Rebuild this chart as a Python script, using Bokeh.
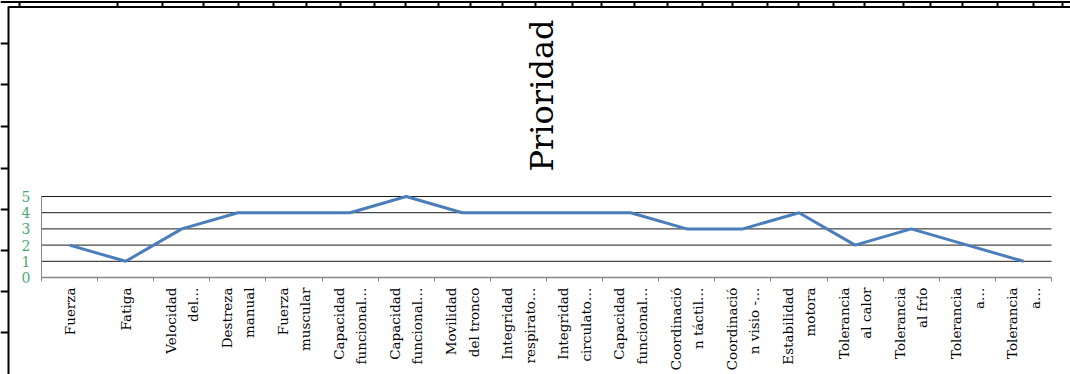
import math
from bokeh.plotting import figure
from bokeh.models import Range1d, FixedTicker, Label, LinearAxis
from bokeh.embed import file_html
from bokeh.resources import INLINE

# ---- data ----
categories = [
    "Fuerza", "Fatiga", "Velocidad\ndel…", "Destreza\nmanual", "Fuerza\nmuscular",
    "Capacidad\nfuncional…", "Capacidad\nfuncional…", "Movilidad\ndel tronco",
    "Integridad\nrespirato…", "Integridad\ncirculato…", "Capacidad\nfuncional…",
    "Coordinació\nn táctil…", "Coordinació\nn visio -…", "Estabilidad\nmotora",
    "Tolerancia\nal calor", "Tolerancia\nal frío", "Tolerancia\na…", "Tolerancia\na…",
]
prioridad = [2, 1, 3, 4, 4, 4, 5, 4, 4, 4, 4, 3, 3, 4, 2, 3, 2, 1]
y_ticks = [0, 1, 2, 3, 4, 5]
title_text = "Prioridad"

# spreadsheet rulers around the chart (page pixel positions)
ruler_top_ticks = [19, 117, 162, 203, 238, 273, 306, 340, 374, 405, 438, 470, 502, 535,
                   572, 601, 634, 667, 702, 732, 767, 798, 833, 864, 903, 930, 962, 997,
                   1033, 1062]
ruler_left_ticks = [43, 84, 126, 168, 209, 250, 291, 332]

W, H = 1070, 374
n = len(categories)
xs = [i + 0.5 for i in range(n)]
boundaries = list(range(n + 1))

# plot-area placement in page pixels
PX_L, PX_R = 41, 1051
PY_TOP, PY_BOT = 196, 277
YMAX = 5
sx = (PX_R - PX_L) / n
sy = (PY_BOT - PY_TOP) / YMAX

FONT = "DejaVu Serif"
GREEN = "#4BAA72"

p = figure(width=W, height=H, output_backend="svg", toolbar_location=None,
           x_range=Range1d(-PX_L / sx, n + (W - PX_R) / sx),
           y_range=Range1d(-(H - PY_BOT) / sy, YMAX + PY_TOP / sy),
           x_axis_type=None, y_axis_type=None,
           min_border=0, min_border_left=0, min_border_right=0,
           min_border_top=0, min_border_bottom=0)
p.extra_x_ranges = {"px": Range1d(0, W)}
p.extra_y_ranges = {"px": Range1d(H, 0)}
p.outline_line_color = None
p.background_fill_color = "white"
p.border_fill_color = "white"

# gridlines
p.segment(x0=[0] * (len(y_ticks) - 1), x1=[n] * (len(y_ticks) - 1),
          y0=y_ticks[1:], y1=y_ticks[1:], line_color="#1a1a1a", line_width=1)

# y axis
yaxis = LinearAxis(ticker=FixedTicker(ticks=y_ticks), fixed_location=0, bounds=(0, YMAX))
yaxis.major_tick_out = 0
yaxis.major_tick_in = 0
yaxis.minor_tick_out = 0
yaxis.minor_tick_in = 0
yaxis.axis_line_color = "#868686"
yaxis.axis_line_width = 1
yaxis.major_label_text_color = GREEN
yaxis.major_label_text_font = FONT
yaxis.major_label_text_font_size = "14px"
yaxis.major_label_standoff = 11
p.add_layout(yaxis, "left")

# x axis: separators as minor ticks, labels at category centres
xaxis = LinearAxis(ticker=FixedTicker(ticks=xs, minor_ticks=boundaries),
                   fixed_location=0, bounds=(0, n))
xaxis.major_tick_out = 0
xaxis.major_tick_in = 0
xaxis.minor_tick_out = 4
xaxis.minor_tick_in = 0
xaxis.minor_tick_line_color = "#868686"
xaxis.minor_tick_line_width = 1
xaxis.axis_line_color = "#868686"
xaxis.axis_line_width = 1.5
xaxis.major_label_overrides = {xs[i]: categories[i] for i in range(n)}
xaxis.major_label_orientation = math.pi / 2
xaxis.major_label_text_font = FONT
xaxis.major_label_text_font_size = "13.5px"
xaxis.major_label_text_color = "#000000"
xaxis.major_label_text_line_height = 1.4
xaxis.major_label_standoff = 6
p.add_layout(xaxis, "below")

p.line(xs, prioridad, line_color="#4A7EBB", line_width=3)

# title
p.add_layout(Label(x=541, y=95, x_range_name="px", y_range_name="px", text=title_text,
                   angle=math.pi / 2, text_align="center", text_baseline="middle",
                   text_font=FONT, text_font_size="32px", text_color="#000000"))

# spreadsheet rulers (decoration in page-pixel range)
p.segment(x0=[0, 8], x1=[W, W], y0=[1.5, 6.5], y1=[1.5, 6.5],
          x_range_name="px", y_range_name="px", line_color="#000000", line_width=2)
p.segment(x0=ruler_top_ticks, x1=ruler_top_ticks,
          y0=[1.5] * len(ruler_top_ticks), y1=[6.5] * len(ruler_top_ticks),
          x_range_name="px", y_range_name="px", line_color="#000000", line_width=2)
p.segment(x0=[8], x1=[8], y0=[6], y1=[H],
          x_range_name="px", y_range_name="px", line_color="#000000", line_width=2)
p.segment(x0=[0] * len(ruler_left_ticks), x1=[8] * len(ruler_left_ticks),
          y0=ruler_left_ticks, y1=ruler_left_ticks,
          x_range_name="px", y_range_name="px", line_color="#000000", line_width=2)

open("out.html", "w").write(file_html(p, INLINE))
